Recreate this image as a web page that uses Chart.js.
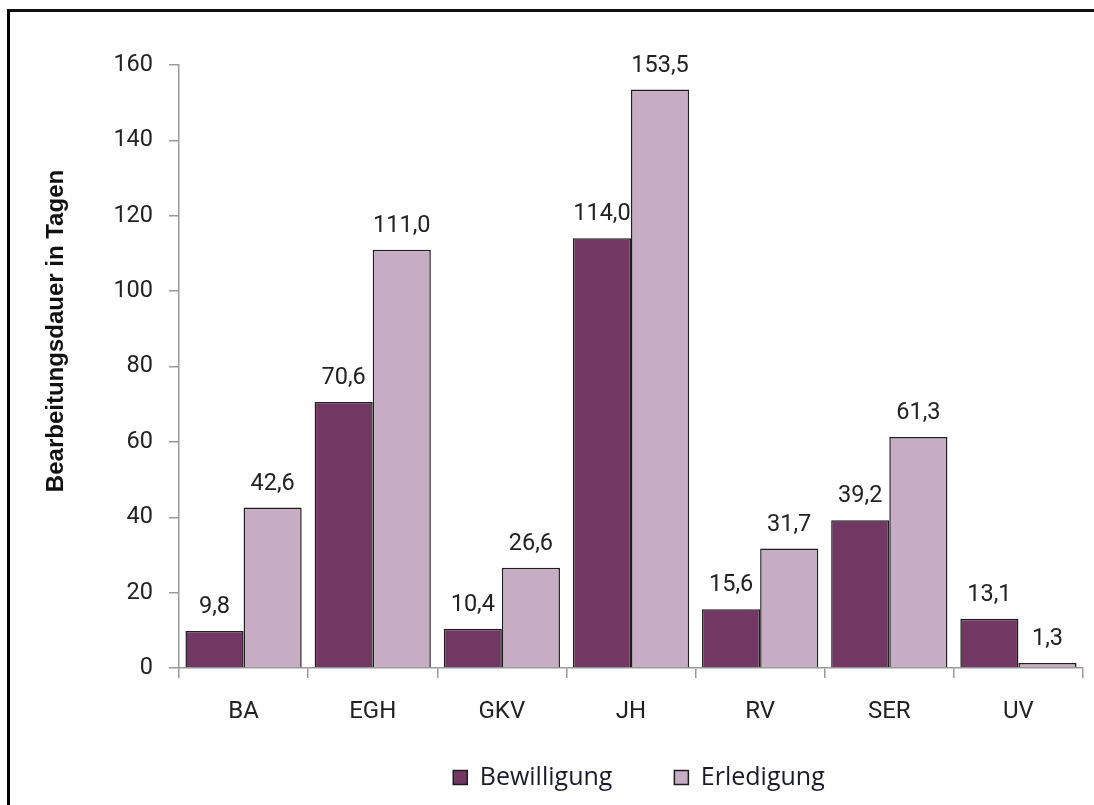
<!DOCTYPE html>
<html>
<head>
<meta charset="utf-8">
<script src="https://cdn.jsdelivr.net/npm/chart.js@4"></script>
<style>
  body { margin: 0; background: #fff; }
  .frame { position: absolute; left: 7px; top: 9px; width: 1100px; height: 810px;
           border-left: 3px solid #000; border-top: 3px solid #111; }
  #chart { position: absolute; left: 0; top: 0; }
</style>
</head>
<body>
<div class="frame"></div>
<canvas id="chart" width="1094" height="805"></canvas>
<script>
const categories = ['BA', 'EGH', 'GKV', 'JH', 'RV', 'SER', 'UV'];
const bewilligung = [9.8, 70.6, 10.4, 114.0, 15.6, 39.2, 13.1];
const erledigung = [42.6, 111.0, 26.6, 153.5, 31.7, 61.3, 1.3];
const yMax = 160;
const yStep = 20;
const yTitle = 'Bearbeitungsdauer in Tagen';

const fmt = v => v.toFixed(1).replace('.', ',');

// value labels above each bar
const valueLabels = {
  id: 'valueLabels',
  afterDatasetsDraw(chart) {
    const ctx = chart.ctx;
    ctx.save();
    ctx.font = '23.5px Roboto';
    ctx.fillStyle = '#222';
    ctx.textAlign = 'center';
    ctx.textBaseline = 'bottom';
    chart.data.datasets.forEach((ds, i) => {
      chart.getDatasetMeta(i).data.forEach((bar, j) => {
        ctx.fillText(fmt(ds.data[j]), bar.x, bar.y - 12);
      });
    });
    ctx.restore();
  }
};

// y axis title, sits a bit above the axis middle in the original
const axisTitle = {
  id: 'axisTitle',
  afterDraw(chart) {
    const ctx = chart.ctx;
    ctx.save();
    ctx.translate(56, 331);
    ctx.rotate(-Math.PI / 2);
    ctx.font = 'bold 24px "Liberation Sans"';
    ctx.fillStyle = '#111';
    ctx.textAlign = 'center';
    ctx.textBaseline = 'middle';
    ctx.fillText(yTitle, 0, 0);
    ctx.restore();
  }
};

// legend is centred under the plot and sits a bit higher
const legendShift = {
  id: 'legendShift',
  afterLayout(chart) {
    const lg = chart.legend;
    const dx = (chart.chartArea.left + chart.chartArea.right) / 2 + 8 - (lg.left + lg.right) / 2;
    lg.left += dx;
    lg.right += dx;
    lg.top -= 25;
    lg.bottom -= 25;
  }
};

new Chart(document.getElementById('chart'), {
  type: 'bar',
  data: {
    labels: categories,
    datasets: [{
      label: 'Bewilligung',
      data: bewilligung,
      backgroundColor: '#723863',
      borderColor: '#1e1e1e',
      borderWidth: 1.5,
      borderSkipped: 'bottom'
    }, {
      label: 'Erledigung',
      data: erledigung,
      backgroundColor: '#c6adc3',
      borderColor: '#1e1e1e',
      borderWidth: 1.5,
      borderSkipped: 'bottom'
    }]
  },
  options: {
    responsive: false,
    animation: false,
    layout: { padding: { left: 0, right: 11, top: 65, bottom: -20 } },
    datasets: { bar: { categoryPercentage: 0.9, barPercentage: 1 } },
    scales: {
      x: {
        offset: true,
        grid: { offset: true, drawOnChartArea: false, drawTicks: true, tickLength: 10, color: '#999', lineWidth: 1.5 },
        border: { color: '#999', width: 1.5 },
        ticks: { font: { family: 'Roboto', size: 24 }, color: '#222', padding: 20 },
        afterFit(scale) { scale.height = 60; }
      },
      y: {
        min: 0,
        max: yMax,
        grid: { drawOnChartArea: false, drawTicks: true, tickLength: 10, color: '#999', lineWidth: 1.5 },
        border: { color: '#999', width: 1.5 },
        ticks: { stepSize: yStep, font: { family: 'Roboto', size: 23.5 }, color: '#222', padding: 16 },
        afterFit(scale) { scale.width = 179; }
      }
    },
    plugins: {
      legend: {
        position: 'bottom',
        labels: {
          boxWidth: 14,
          boxHeight: 14,
          padding: 62,
          color: '#1a1a2a',
          font: { family: '"Open Sans"', size: 25 }
        }
      },
      tooltip: { enabled: false }
    }
  },
  plugins: [valueLabels, axisTitle, legendShift]
});
</script>
</body>
</html>
